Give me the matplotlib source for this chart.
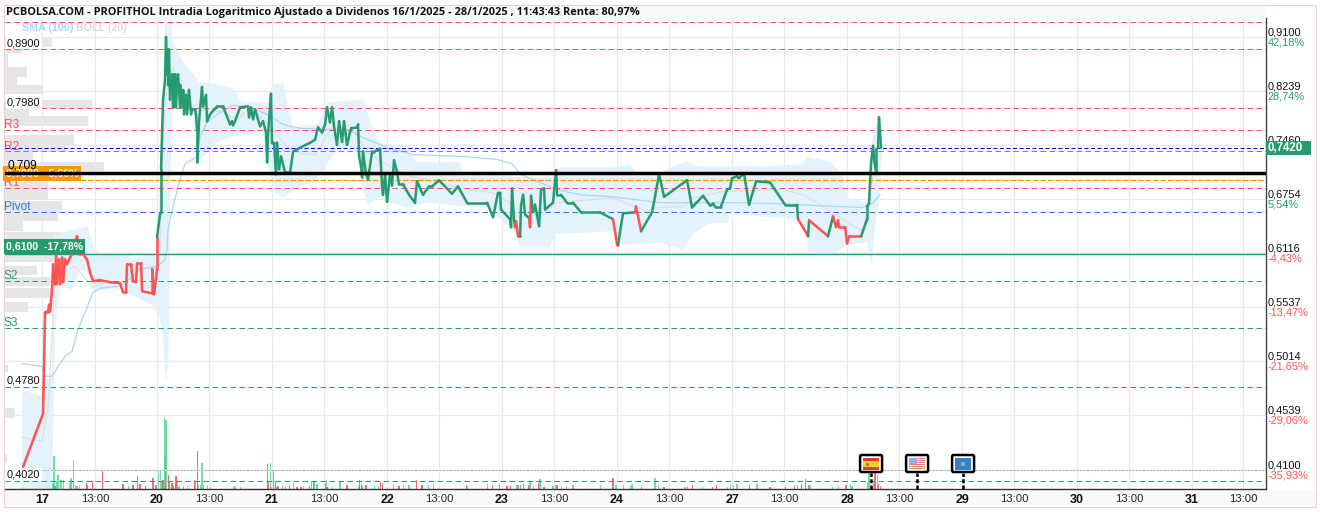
from matplotlib import pyplot as plt
from matplotlib.collections import LineCollection
from matplotlib.patches import Rectangle, FancyBboxPatch
import numpy as np

GREEN = "#269b70"
RED = "#ff5252"
BLUE_BAND = "#e1f1fc"
SMA_COLOR = "#a9d6fb"
GRID = "#e9e9e9"
LABEL_FONT = "Liberation Sans"

TITLE = "PCBOLSA.COM - PROFITHOL Intradia Logaritmico Ajustado a Dividenos 16/1/2025 - 28/1/2025 , 11:43:43 Renta: 80,97%"

# sessions on the x axis: 0 = day 17, 1 = day 20, ...
DAY_TICKS = [0, 1, 2, 3, 4, 5, 6, 7, 8, 9, 10]
DAY_LABELS = ["17", "20", "21", "22", "23", "24", "27", "28", "29", "30", "31"]
HOUR_TICKS = [0.461, 1.455, 2.455, 3.455, 4.455, 5.455, 6.455, 7.455, 8.455, 9.455, 10.445]

AXIS_PRICES = [0.9100, 0.8239, 0.7460, 0.6754, 0.6116, 0.5537, 0.5014, 0.4539, 0.4100]
AXIS_LABELS = ["0,9100", "0,8239", "0,7460", "0,6754", "0,6116", "0,5537", "0,5014", "0,4539", "0,4100"]
AXIS_PCT = ["42,18%", "28,74%", "", "5,54%", "-4,43%", "-13,47%", "-21,65%", "-29,06%", "-35,93%"]

close_t = [
    -.165, .009, .013, .017, .026, .035, .052, .061, .07, .087, .096, .113, .122, .13, .148, .157,
    .174, .183, .2, .217, .243, .27, .304, .33, .348, .391, .417, .443, .504, .591, .678, .704, .73,
    .739, .774, .791, .817, .826, .861, .87, .957, .957, .974, 1.0, 1.0, 1.0,
    1.026, 1.035, 1.035, 1.052, 1.07, 1.078, 1.087, 1.096, 1.096, 1.104, 1.113, 1.13, 1.139, 1.139,
    1.157, 1.157, 1.165, 1.174, 1.183, 1.2, 1.2, 1.226, 1.226, 1.235, 1.252, 1.261, 1.278, 1.296,
    1.304, 1.33, 1.339, 1.348, 1.348, 1.365, 1.391, 1.4, 1.426, 1.435, 1.461, 1.522, 1.574, 1.635,
    1.652, 1.661, 1.678, 1.722, 1.791, 1.8, 1.817, 1.835, 1.852, 1.896, 1.922, 1.948, 1.957, 1.965,
    1.991, 2.0, 2.017, 2.035, 2.043, 2.061, 2.078, 2.113, 2.157, 2.183, 2.243, 2.33, 2.374, 2.4,
    2.435, 2.461, 2.478, 2.504, 2.522, 2.539, 2.565, 2.583, 2.609, 2.626, 2.652, 2.687, 2.739, 2.748,
    2.757, 2.774, 2.783, 2.791, 2.817, 2.835, 2.87, 2.887, 2.939, 2.957, 2.965, 2.983, 3.0, 3.026,
    3.043, 3.061, 3.087, 3.104, 3.139, 3.191, 3.243, 3.261, 3.313, 3.365, 3.391, 3.452, 3.565, 3.617,
    3.696, 3.87, 3.922, 3.965, 3.983, 3.991, 4.07, 4.078, 4.087, 4.104, 4.113, 4.122, 4.139, 4.157,
    4.165, 4.183, 4.2, 4.235, 4.243, 4.252, 4.27, 4.287, 4.322, 4.339, 4.365, 4.374, 4.443, 4.47,
    4.478, 4.513, 4.565, 4.617, 4.687, 4.852, 4.965, 4.983, 5.0, 5.009, 5.052, 5.157, 5.165, 5.209,
    5.304, 5.33, 5.365, 5.409, 5.609, 5.652, 5.748, 5.809, 5.835, 5.852, 5.904, 5.957, 5.983, 6.0,
    6.043, 6.061, 6.104, 6.148, 6.209, 6.33, 6.461, 6.565, 6.574, 6.652, 6.661, 6.67, 6.835, 6.878,
    6.904, 6.922, 6.93, 6.983, 7.0, 7.017, 7.122, 7.174, 7.174, 7.191, 7.2, 7.209, 7.226, 7.235,
    7.252, 7.252, 7.27, 7.278, 7.296,
]
close_p = [
    .4124, .4548, .4759, .4935, .5479, .5489, .5489, .5558, .5489, .5719, .5987, .5773, .6084, .5773, .6041, .5773,
    .6062, .5794, .6041, .5987, .6062, .6127, .6305, .6095, .6116, .6041, .5902, .5805, .5816, .5794, .5784, .5687, .5687,
    .5987, .5987, .5805, .5794, .5998, .5998, .5698, .5676, .5934, .5666, .5934, .6151, .6293,
    .6565, .6589, .7133, .8109, .841, .91, .8494, .8893, .8335, .8893, .8109, .8494, .7994, .8494,
    .8037, .8494, .7994, .841, .8494, .7994, .8335, .7994, .8255, .7893, .818, .7893, .8255, .7893,
    .7965, .7965, .7893, .7676, .7225, .7777, .830, .8008, .818, .7792, .7893, .8008, .8008, .7748,
    .7792, .7734, .7792, .7994, .8008, .7849, .7994, .7821, .7965, .772, .7792, .7633, .7225, .7604,
    .8196, .7489, .7489, .7068, .7489, .7133, .7303, .7094, .7094, .7369, .7421, .7489, .7532, .7705,
    .7633, .7748, .7994, .7777, .7994, .772, .746, .7792, .7503, .7792, .746, .7691, .7705, .7748,
    .7303, .7172, .7029, .7369, .7068, .7003, .7369, .7369, .7408, .6911, .6806, .7068, .6719, .7068,
    .6924, .7251, .7094, .6937, .6937, .6806, .6707, .6976, .6806, .6911, .6911, .699, .6819, .6911,
    .6707, .6707, .653, .6832, .6832, .6624, .6506, .6411, .6885, .6494, .6411, .6482, .6305, .6305,
    .6671, .6806, .6565, .6518, .6411, .6793, .6589, .6683, .6423, .6872, .6885, .6624, .6707, .712,
    .6806, .6806, .6707, .6707, .6589, .6589, .6506, .6352, .621, .621, .6577, .6589, .666, .6364,
    .6589, .678, .7068, .678, .699, .6648, .6793, .6671, .6695, .666, .666, .6872, .6885, .7016,
    .7042, .7016, .7081, .6683, .6976, .6963, .6683, .6683, .6506, .6329, .6305, .6494, .6305, .6541,
    .6411, .6494, .6411, .6411, .6222, .6305, .6305, .6506, .666, .6695, .6963, .7225, .7447, .7264,
    .7107, .7395, .7421, .7849, .7421,
]
# stretches of the session where the line is drawn red
red_spans = [(-.2, 1.01), (4.115, 4.16), (4.237, 4.25), (4.96, 5.009), (5.16, 5.215),
             (6.57, 6.661), (6.67, 6.84), (6.878, 7.13)]

sma_t = [-.174, 0, .026, .087, .139, .2, .261, .313, .374, .443, .504, .678, .783, .852, 1.0, 1.07, 1.087, 1.096,
         1.139, 1.2, 1.243, 1.348, 1.374, 1.435, 1.522, 1.661, 1.809, 1.957, 2.096, 2.243, 2.504, 2.652, 2.791,
         3.026, 3.226, 3.661, 3.957, 4.096, 4.157, 4.304, 4.478, 4.678, 4.965, 5.374, 5.574, 6.009, 6.443, 6.739,
         7.139, 7.226, 7.287]
sma_p = [.4988, .4961, .4873, .4873, .4961, .5053, .5101, .5314, .5479, .5687, .573, .5751, .5848, .5934, .5966,
         .6041, .6151, .6388, .666, .7003, .7199, .7303, .7575, .7777, .7893, .8023, .7994, .7893, .7748, .7691,
         .7676, .7676, .7561, .7408, .7329, .7303, .7264, .7199, .7068, .6976, .6872, .6806, .678, .6707, .6707,
         .6707, .6695, .6671, .6648, .6707, .6806]

boll_t = [-.174, 0, .052, .096, .113, .287, .443, .565, .704, .791, 1.0, 1.026, 1.043, 1.07, 1.139, 1.217, 1.287,
          1.348, 1.487, 1.704, 1.809, 1.922, 2.043, 2.13, 2.243, 2.374, 2.487, 2.678, 2.826, 3.026, 3.2, 3.696,
          3.922, 4.07, 4.139, 4.357, 4.478, 4.965, 5.261, 5.357, 5.574, 5.661, 5.922, 6.443, 6.617, 6.739, 7.0,
          7.139, 7.226]
boll_p = [.4355, .4323, .4583, .544, .588, .5966, .574, .5805, .5773, .5934, .5955, .6128, .7133, .8109, .8622,
          .8109, .8008, .7936, .7965, .7821, .7994, .7821, .7604, .7434, .7342, .7329, .7633, .7748, .7356, .7172,
          .7042, .6872, .6832, .6707, .653, .6565, .6707, .6767, .66, .6648, .666, .6767, .6846, .6872, .6806,
          .6707, .647, .6364, .7042]

band_up_t = [-.174, 0, .026, .087, .096, .304, .4, .443, .504, .748, .791, 1.0, 1.026, 1.07, 1.13, 1.139, 1.226,
             1.374, 1.443, 1.661, 1.739, 1.957, 2.0, 2.096, 2.139, 2.183, 2.391, 2.487, 2.53, 2.791, 2.809, 2.852,
             2.939, 3.183, 3.2, 3.261, 3.635, 3.661, 4.009, 4.139, 4.443, 4.478, 4.965, 5.113, 5.174, 5.374, 5.461,
             5.609, 5.696, 6.243, 6.617, 6.652, 6.852, 6.965, 7.0, 7.174, 7.217, 7.27, 7.304]
band_up_p = [.475, .4697, .4847, .4864, .6329, .6388, .6423, .6187, .6095, .6073, .6041, .6128, .7133, .9351, .9385,
             .9004, .8686, .8367, .8367, .8287, .8066, .8066, .8335, .8367, .8008, .7705, .7748, .8066, .808, .8109,
             .8008, .7792, .7489, .7434, .7329, .7225, .7225, .7042, .7068, .7029, .7029, .7159, .7159, .7199, .7068,
             .7068, .7159, .7238, .7172, .7172, .7199, .729, .7238, .7042, .6767, .6707, .7489, .7864, .7434]
band_lo_t = [-.174, .087, .113, .13, .157, .183, .27, .33, .391, .461, .678, .739, .826, .957, 1.009, 1.043, 1.078,
             1.096, 1.104, 1.113, 1.13, 1.139, 1.243, 1.313, 1.348, 1.443, 1.504, 1.661, 1.922, 1.957, 2.026, 2.096,
             2.243, 2.391, 2.487, 2.565, 2.739, 2.783, 2.835, 2.939, 3.0, 3.174, 3.348, 3.696, 3.896, 3.957, 4.07,
             4.13, 4.157, 4.417, 4.461, 4.965, 5.0, 5.13, 5.374, 5.574, 5.661, 5.783, 5.965, 5.983, 6.243, 6.565,
             6.652, 6.661, 6.878, 7.0, 7.174, 7.217, 7.226, 7.287, 7.304]
band_lo_p = [.396, .396, .5285, .5508, .5751, .574, .5719, .5934, .5902, .5698, .574, .5666, .5634, .5558, .5479,
             .5314, .482, .4979, .5314, .6742, .7821, .8037, .7994, .7922, .7225, .7356, .7489, .7575, .7633, .7225,
             .6832, .678, .6911, .7003, .7225, .7395, .7395, .6911, .6683, .678, .6719, .6648, .6707, .666, .6648,
             .6541, .6411, .6305, .6175, .6175, .6329, .6364, .621, .621, .6234, .6151, .6329, .6447, .647, .6589,
             .6541, .6506, .6352, .6128, .6095, .621, .6234, .5966, .6234, .6832, .7395]

vol_up_t = [0, .009, .035, .052, .07, .087, .104, .13, .139, .165, .183, .235, .252, .27, .287, .304, .33, .748, .983,
            1.0, 1.009, 1.026, 1.043, 1.061, 1.078, 1.174, 1.191, 1.226, 1.261, 1.33, 1.357, 1.374, 1.391, 1.4, 1.435,
            1.461, 1.661, 1.678, 1.722, 1.983, 1.991, 2.009, 2.043, 2.087, 2.113, 2.183, 2.27, 2.339, 2.365, 2.383,
            2.391, 2.47, 2.522, 2.591, 2.748, 2.783, 2.887, 2.922, 3.052, 3.139, 3.191, 3.357, 3.4, 3.452, 3.696,
            3.87, 3.974, 4.13, 4.157, 4.243, 4.27, 4.33, 4.443, 4.461, 4.513, 4.617, 4.852, 4.991, 5.052, 5.113, 5.13,
            5.33, 5.357, 5.591, 5.609, 5.739, 5.957, 5.983, 6.009, 6.043, 6.217, 6.565, 6.678, 6.87, 6.922, 7.026,
            7.043, 7.174, 7.191, 7.226, 7.261]
vol_up_v = [6, 8, 23, 16, 8, 6, 33, 8, 14, 9, 9, 6, 11, 29, 4, 3, 4, 3, 2.5, 9, 19, 19, 8, 71, 69, 9, 3, 3, 3, 8, 4, 4,
            26, 4, 4, 2, 2, 3, 2, 26, 2, 4, 2, 3, 2, 6, 3, 8, 7, 5, 5, 9, 2, 7, 3, 3, 3, 3, 4, 4, 4, 4, 5, 2, 3, 5, 5,
            4, 4, 8, 3, 10, 3, 4, 3, 4, 4, 4, 4, 3, 5, 11, 4, 2, 3, 2, 2, 4, 4, 5, 5, 4, 4, 2, 3, 5, 3, 7, 16, 6, 14]
vol_down_t = [-.174, .026, .061, .096, .113, .383, .391, .443, .522, .704, .791, .826, .852, .896, .965, .991, 1.052,
              1.07, 1.096, 1.104, 1.122, 1.13, 1.139, 1.165, 1.322, 1.348, 1.957, 1.965, 2.009, 2.026, 2.052, 2.148,
              2.217, 2.252, 2.322, 2.357, 2.461, 2.478, 2.652, 2.757, 2.774, 2.817, 2.939, 2.957, 3.0, 3.104, 3.252,
              3.304, 3.687, 3.913, 4.043, 4.07, 4.139, 4.183, 4.226, 4.313, 4.365, 4.478, 4.557, 4.965, 5.209, 5.4,
              5.409, 5.652, 5.826, 5.861, 6.148, 6.33, 6.461, 6.539, 6.6, 6.635, 6.661, 6.991, 7.243, 7.27, 7.287]
vol_down_v = [4, 4, 4, 5, 3, 6, 4, 8, 18, 5, 4, 13, 5, 3, 11, 4, 9, 33, 14, 8, 6, 6, 3, 13, 9, 38, 25, 8, 19, 8, 3, 4,
              2, 2, 3, 8, 6, 2, 4, 9, 5, 4, 7, 5, 4, 3, 9, 4, 4, 4, 3, 3, 4, 5, 4, 6, 2, 4, 2, 11, 2, 2, 2, 4, 2, 4, 4,
              2, 2, 3, 5, 10, 4, 4, 16, 5, 3]

# volume by price on the left side
profile_high = [.91, .8909, .8813, .8606, .8462, .8335, .8109, .7965, .7864, .7604, .746, .7369, .7225, .7068, .6963,
                .6859, .673, .66, .6482, .6352, .6234, .6095, .5966, .5848, .573, .5591, .4979, .46, .422]
profile_low = [.8941, .8829, .8606, .8447, .8335, .8196, .7965, .7849, .772, .746, .7369, .7238, .7107, .6976, .6859,
               .6742, .66, .6482, .6364, .6234, .6116, .6009, .5869, .5751, .5623, .5489, .4908, .4515, .4156]
profile_vol = [47, 18, 3, 22, 12, 37, 87, 24, 83, 69, 61, 28, 99, 75, 43, 43, 57, 53, 18, 55, 70, 125, 32, 45, 50, 23,
               3, 10, 2]

RED_LEVELS = [0.9354, 0.8900, 0.7980, 0.7668, 0.7376, 0.6892]
GREEN_LEVELS = [0.5807, 0.5326, 0.4780, 0.4020]
PIVOT = 0.6594
SUPPORT = 0.6100
BLUE_LEVEL = 0.7420
ORANGE_LEVEL = 0.6997
BLACK_LEVEL = 0.7090
VOL_AVG = 0.4100

LEFT_PRICES = [0.8900, 0.7980, 0.4780, 0.4020]
LEFT_LABELS = ["0,8900", "0,7980", "0,4780", "0,4020"]
PIVOT_NAMES = ["R3", "R2", "R1", "Pivot", "S2", "S3"]
PIVOT_LEVELS = [0.7668, 0.7376, 0.6892, 0.6594, 0.5807, 0.5326]
PIVOT_COLORS = [RED, RED, RED, "#2979e8", GREEN, GREEN]

FLAG_TIMES = [7.209, 7.609, 8.009]

W, H = 1320, 512


def px_rect(x0, y0, x1, y1, **kw):
    fig.patches.append(Rectangle((x0 / W, 1 - y1 / H), (x1 - x0) / W, (y1 - y0) / H,
                                 transform=fig.transFigure, figure=fig, **kw))


def px_axes(x0, y0, x1, y1):
    a = fig.add_axes([x0 / W, 1 - y1 / H, (x1 - x0) / W, (y1 - y0) / H])
    a.set_axis_off()
    return a


fig = plt.figure(figsize=(W / 100, H / 100), dpi=100)
plt.rcParams["font.family"] = [LABEL_FONT, "DejaVu Sans"]

px_rect(5, 5, 1266, 18, facecolor="#fafafa", edgecolor="none")
px_rect(5, 490, 1316, 507, facecolor="#fafafa", edgecolor="none")
px_rect(4, 4.5, 1316, 507, facecolor="none", edgecolor="#ecd2d2", linewidth=0.8)

ax_box = [5 / W, 1 - 489 / H, 1261 / W, 471 / H]
ax = fig.add_axes(ax_box)
ax.set_yscale("log")
ax.set_xlim(-0.322, 10.643)
ax.set_ylim(0.3959, 0.9424)
ax.set_zorder(3)
ax.patch.set_visible(False)

# background layers
prof = ax.twiny()
prof.set_zorder(1)
prof.set_xlim(0, 1261)
prof.barh(profile_low, profile_vol, height=np.array(profile_high) - np.array(profile_low), align="edge",
          color="#e6e6e6", linewidth=0)
prof.set_axis_off()

vol = ax.twinx()
vol.set_zorder(2)
vol.patch.set_visible(False)
vol.set_ylim(0, 471)
vol.bar(vol_up_t, vol_up_v, width=0.009, color="#6fdca5", linewidth=0)
vol.bar(vol_down_t, vol_down_v, width=0.009, color="#f26d6d", linewidth=0)
vol.set_axis_off()

# grid
ax.set_yticks(AXIS_PRICES)
ax.set_yticklabels([])
ax.minorticks_off()
ax.set_yticks([], minor=True)
ax.set_xticks(DAY_TICKS + HOUR_TICKS)
ax.set_xticklabels(DAY_LABELS + ["13:00"] * len(HOUR_TICKS), fontsize=8.1, color="#222222")
for lab in ax.get_xticklabels()[:len(DAY_TICKS)]:
    lab.set_fontweight("bold")
    lab.set_fontsize(9)
    lab.set_color("#111111")
ax.tick_params(axis="both", length=0)
ax.tick_params(axis="x", pad=3.7)
ax.grid(True, color=GRID, linewidth=0.9, zorder=0)
ax.set_axisbelow(True)
for name in ("top", "left"):
    ax.spines[name].set_visible(False)
ax.spines["right"].set_color("#444444")
ax.spines["right"].set_linewidth(1)
ax.spines["bottom"].set_color("#333333")
ax.spines["bottom"].set_linewidth(1)

# bollinger band and moving averages
ax.fill(np.r_[band_up_t, band_lo_t[::-1]], np.r_[band_up_p, band_lo_p[::-1]], color=BLUE_BAND, alpha=0.9,
        linewidth=0, zorder=1)
ax.plot(boll_t, boll_p, color="#dddddd", linewidth=0.8, zorder=1.5)
ax.plot(sma_t, sma_p, color=SMA_COLOR, linewidth=0.9, zorder=1.6)

# levels
DASH = (0, (5.5, 3.5))
for level in RED_LEVELS:
    ax.axhline(level, color=RED, linewidth=0.72, linestyle=DASH, zorder=2)
for level in GREEN_LEVELS:
    ax.axhline(level, color=GREEN, linewidth=0.72, linestyle=DASH, zorder=2)
ax.axhline(PIVOT, color="#2979e8", linewidth=0.72, linestyle=DASH, zorder=2)
ax.axhline(BLUE_LEVEL, color="#0000dd", linewidth=0.72, linestyle=(0, (4, 2.5)), zorder=2)
ax.axhline(ORANGE_LEVEL, color="#ff9800", linewidth=0.9, linestyle=(0, (4.5, 1.5)), zorder=2)
ax.axhline(VOL_AVG, color="#aaaaaa", linewidth=0.72, linestyle=(0, (2, 1.5)), zorder=2)
ax.axhline(SUPPORT, color=GREEN, linewidth=1.0, zorder=2)

# close line, coloured segment by segment
pts = np.column_stack([close_t, close_p])
segs = np.stack([pts[:-1], pts[1:]], axis=1)
mid = (pts[:-1, 0] + pts[1:, 0]) / 2
seg_red = np.zeros(len(segs), dtype=bool)
for lo, hi in red_spans:
    seg_red |= (mid >= lo) & (mid <= hi)
ax.add_collection(LineCollection(segs, colors=[RED if r else GREEN for r in seg_red], linewidths=1.8,
                                 capstyle="round", zorder=3))

ax.axhline(BLACK_LEVEL, color="black", linewidth=2.5, zorder=6)


def at_left(price, text, dx, dy, **kw):
    return ax.annotate(text, xy=(0, price), xycoords=ax.get_yaxis_transform(), xytext=(dx, dy),
                       textcoords="offset pixels", va="center", annotation_clip=False, **kw)


def at_right(price, text, dx, dy, **kw):
    return ax.annotate(text, xy=(1, price), xycoords=ax.get_yaxis_transform(), xytext=(dx, dy),
                       textcoords="offset pixels", va="center", annotation_clip=False, **kw)


# right axis labels
for price, label, pct in zip(AXIS_PRICES, AXIS_LABELS, AXIS_PCT):
    at_right(price, label, 2, 4.5, fontsize=7.9, color="#111111", zorder=5)
    if pct:
        at_right(price, pct, 2, -5.5, fontsize=7.9, color=RED if pct.startswith("-") else GREEN, zorder=5)

# last price tag sticks out to the right of the axis
px_rect(1266, 141, 1311, 155, facecolor=GREEN, edgecolor="none", zorder=8)
fig.text(1268 / W, 1 - 148 / H, "0,7420", fontsize=8.3, fontweight="bold", color="white", va="center", zorder=9)

# left labels
for price, label in zip(LEFT_PRICES, LEFT_LABELS):
    at_left(price, label, 2, 6, fontsize=7.9, color="#111111", zorder=5,
            bbox=dict(boxstyle="square,pad=0.12", facecolor="white", edgecolor="none"))
for price, name, col in zip(PIVOT_LEVELS, PIVOT_NAMES, PIVOT_COLORS):
    at_left(price, name, -1, 4.5, fontsize=8.6, color=col, zorder=5)

at_left(ORANGE_LEVEL, "0,7000  -5,66%", 1, 6.5, fontsize=7.7, color="white", fontweight="bold", zorder=5,
        bbox=dict(boxstyle="square,pad=0.25", facecolor="#ff9800", edgecolor="none"))
at_left(SUPPORT, "0,6100  -17,78%", 1, 7.5, fontsize=7.6, color="white", fontweight="bold", zorder=5,
        bbox=dict(boxstyle="square,pad=0.22", facecolor=GREEN, edgecolor="none"))
at_left(BLACK_LEVEL, "0,709", 2, 7, fontsize=8.6, color="black", zorder=7)

# indicator legend
fig.text(22 / W, 1 - 28 / H, "SMA (100)", color=SMA_COLOR, fontsize=7.7, fontweight="bold", va="center", zorder=9)
fig.text(76 / W, 1 - 28 / H, "BOLL (20)", color="#dddddd", fontsize=7.7, fontweight="bold", va="center", zorder=9)

fig.text(6 / W, 1 - 12 / H, TITLE, fontsize=7.92, fontweight="bold", family="Open Sans", color="#111111", va="center")

# event flags along the bottom
flag_spain = np.zeros((12, 16, 3))
flag_spain[:] = [0.85, 0.25, 0.2]
flag_spain[3:9] = [0.97, 0.8, 0.2]
flag_spain[5:8, 3:6] = [0.75, 0.45, 0.3]
flag_us = np.ones((12, 16, 3))
flag_us[::2] = [0.85, 0.5, 0.45]
flag_us[:6, :8] = [0.55, 0.7, 0.9]
flag_eu = np.zeros((12, 16, 3))
flag_eu[:] = [0.2, 0.5, 0.8]
flag_eu[4:8, 6:10] = [0.55, 0.7, 0.55]
flags = [flag_spain, flag_us, flag_eu]

stem_top = 16 / 471
for t, img in zip(FLAG_TIMES, flags):
    ax.plot([t, t], [0, stem_top], transform=ax.get_xaxis_transform(), color="black", linewidth=1.8,
            linestyle=(0, (1.6, 0.9)), zorder=7, clip_on=False)
    cx = ax.transData.transform((t, 0.5))[0]
    box = FancyBboxPatch((cx - 11, H - 472), 22, 17, boxstyle="round,pad=0,rounding_size=1.5",
                         transform=None, facecolor="white", edgecolor="black", linewidth=1.8, zorder=8)
    fig.patches.append(box)
    box.set_figure(fig)
    fa = px_axes(cx - 8, 458, cx + 8, 470)
    fa.set_zorder(10)
    fa.imshow(img, aspect="auto", interpolation="nearest")

fig.savefig("out.png", dpi=100)
